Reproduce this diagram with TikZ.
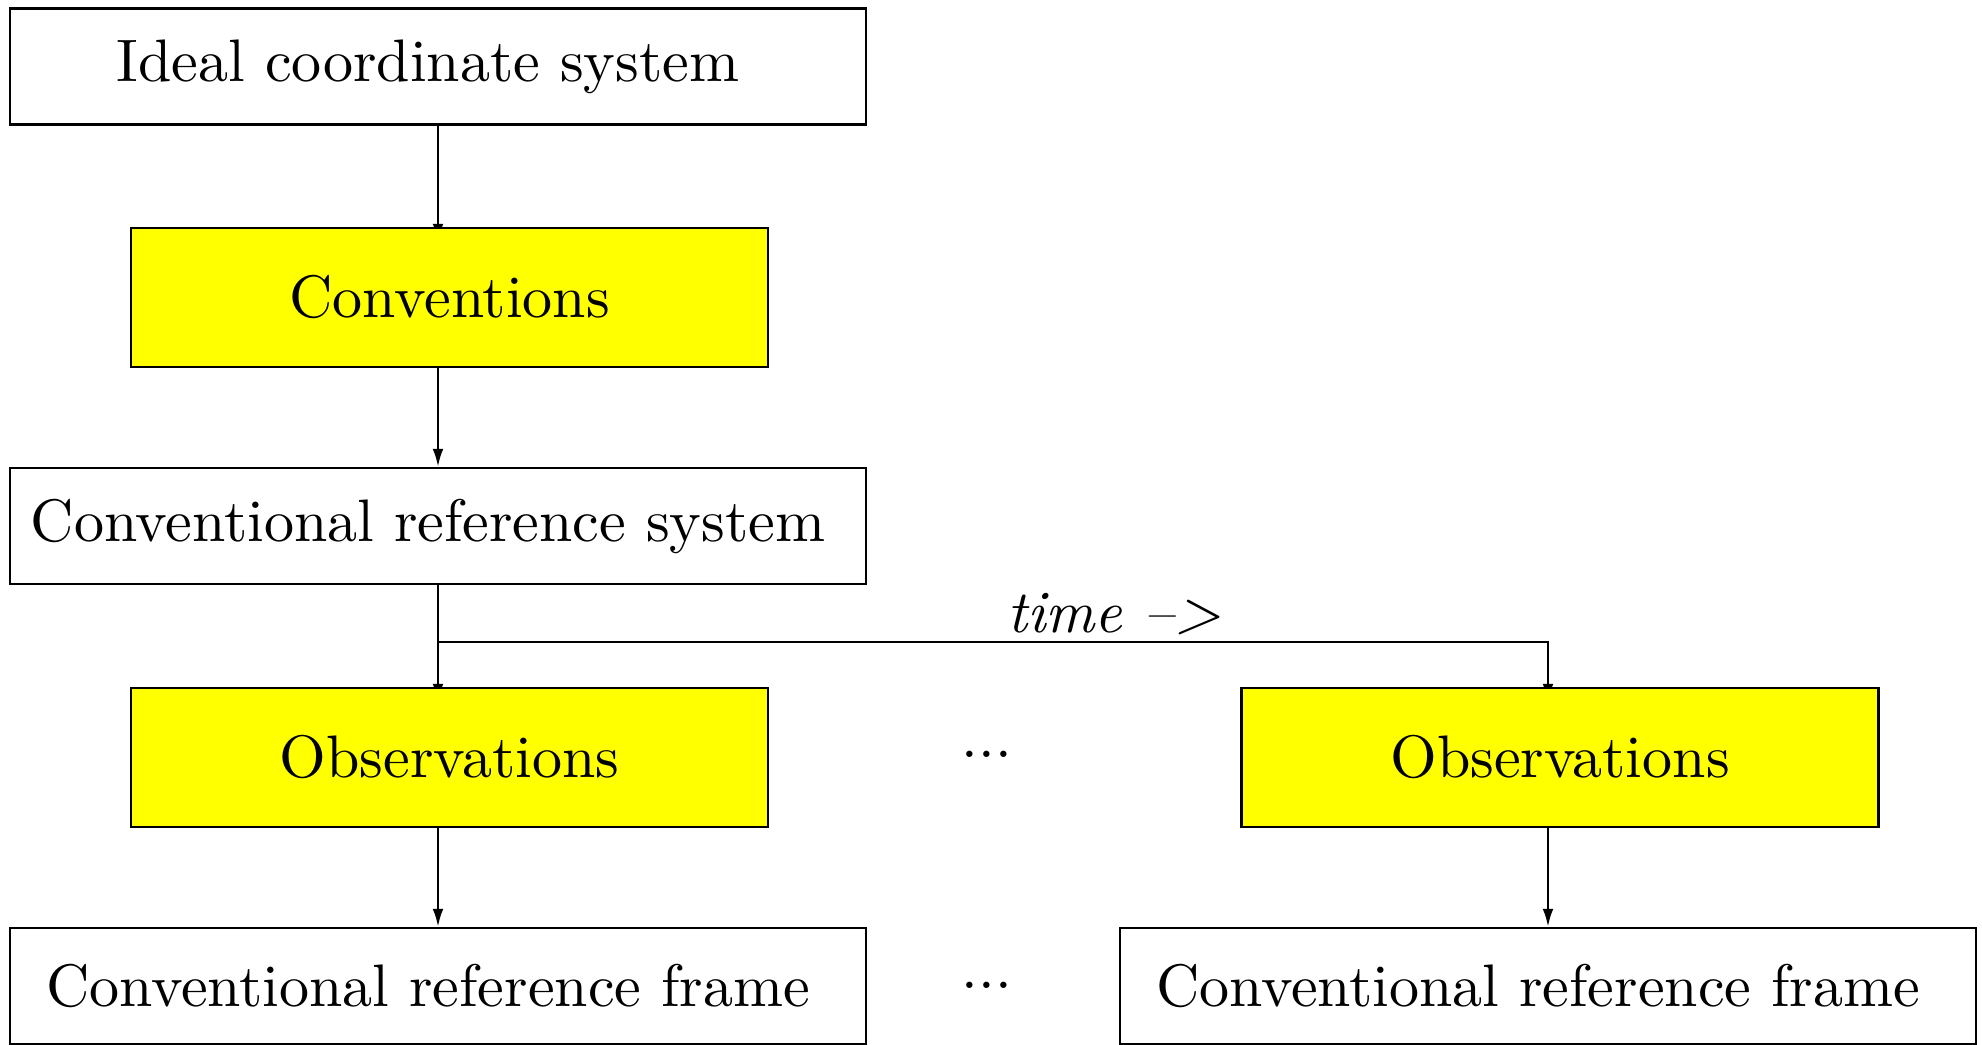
\documentclass[tikz,border=0pt]{standalone}
\usetikzlibrary{arrows.meta}
\definecolor{boxyellow}{RGB}{255,255,0}
\pgfdeclarelayer{bg}
\pgfsetlayers{bg,main}
\begin{document}
\begin{tikzpicture}[x=0.166667pt,y=-0.166667pt,
  wbox/.style={draw, fill=white, inner sep=0pt, minimum width=856*0.166667pt, minimum height=116*0.166667pt},
  ybox/.style={draw, fill=boxyellow, inner sep=0pt, minimum width=637*0.166667pt, minimum height=139*0.166667pt},
  arr/.style={-{Latex[length=3pt,width=1.8pt]}},
  dotsnode/.style={anchor=base, inner sep=0pt}]
\useasboundingbox (0,0) rectangle (1982,1045);
\node[wbox] (ideal) at (438,66.5) {Ideal coordinate system\kern3.33pt};
\node[ybox] (conv) at (449.5,297.5) {Conventions};
\node[wbox] (crs) at (438,526) {Conventional reference system\kern3.33pt};
\node[ybox] (obsL) at (449.5,757.5) {Observations};
\node[ybox] (obsR) at (1560,757.5) {Observations};
\node[wbox] (crfL) at (438,986) {Conventional reference frame\kern3.33pt};
\node[wbox] (crfR) at (1548,986) {Conventional reference frame\kern3.33pt};
\node[dotsnode] (dots1) at (987,757) {...};
\node[dotsnode] (dots2) at (987,988) {...};
\coordinate (split) at (438,642);
\coordinate (turn) at (1548,642);
\node[inner sep=0pt] (time) at (1114,614) {\textit{time -->}};
\begin{pgfonlayer}{bg}
\draw[arr] (ideal.south) -- ([yshift=-2.5pt]ideal.south |- conv.north);
\draw[arr] (crs.south) -- ([yshift=-2.5pt]crs.south |- obsL.north);
\draw[arr] (split) -- (turn) -- ([yshift=-2.5pt]turn |- obsR.north);
\end{pgfonlayer}
\draw[arr] (conv.south -| ideal.south) -- (crs.north);
\draw[arr] (obsL.south -| crfL.north) -- (crfL.north);
\draw[arr] (obsR.south -| crfR.north) -- (crfR.north);
\end{tikzpicture}
\end{document}
